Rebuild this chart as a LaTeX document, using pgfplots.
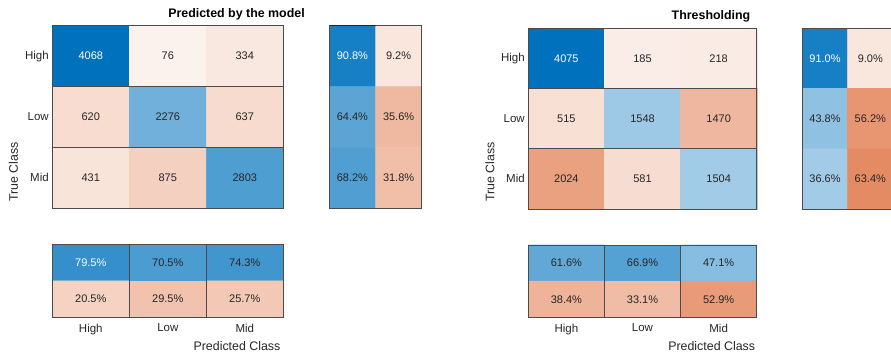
\documentclass[border=0pt]{standalone}
\usepackage{pgfplots}
\pgfplotsset{compat=1.18}
\usepackage{pgfplotstable}
\usepackage{fontspec}
\setmainfont{Liberation Sans}
\definecolor{txt}{RGB}{38,38,38}
\definecolor{gridc}{RGB}{75,75,75}

% left chart: Predicted by the model
\pgfplotstableread{
x y v s w
0 0 4068 1 1
1 0 76 -1 0
2 0 334 -1 0
0 1 620 -1 0
1 1 2276 1 0
2 1 637 -1 0
0 2 431 -1 0
1 2 875 -1 0
2 2 2803 1 0
}\LM
\pgfplotstableread{
x y v s w
0 0 90.8 1 1
1 0 9.2 -1 0
0 1 64.4 1 0
1 1 35.6 -1 0
0 2 68.2 1 0
1 2 31.8 -1 0
}\LR
\pgfplotstableread{
x y v s w
0 0 79.5 1 1
1 0 70.5 1 0
2 0 74.3 1 0
0 1 20.5 -1 0
1 1 29.5 -1 0
2 1 25.7 -1 0
}\LC
% right chart: Thresholding
\pgfplotstableread{
x y v s w
0 0 4075 1 1
1 0 185 -1 0
2 0 218 -1 0
0 1 515 -1 0
1 1 1548 1 0
2 1 1470 -1 0
0 2 2024 -1 0
1 2 581 -1 0
2 2 1504 1 0
}\RM
\pgfplotstableread{
x y v s w
0 0 91.0 1 1
1 0 9.0 -1 0
0 1 43.8 1 0
1 1 56.2 -1 0
0 2 36.6 1 0
1 2 63.4 -1 0
}\RR
\pgfplotstableread{
x y v s w
0 0 61.6 1 0
1 0 66.9 1 0
2 0 47.1 1 0
0 1 38.4 -1 0
1 1 33.1 -1 0
2 1 52.9 -1 0
}\RC

\pgfplotsset{
  cm/.style={scale only axis, anchor=north west, y dir=reverse,
    xmin=-0.5, ymin=-0.5, xtick=\empty, ytick=\empty,
    major tick length=0pt, minor tick length=0pt,
    minor xtick={0.5,1.5}, minor ytick={0.5,1.5},
    xminorgrids, yminorgrids,
    minor grid style={draw=gridc, line width=0.7pt},
    axis line style={draw=gridc, line width=0.7pt},
    colormap={rb}{rgb255(-100)=(217,83,25) rgb255(-75)=(225,120,75)
      rgb255(-50)=(234,160,127) rgb255(-25)=(243,202,184) rgb255(-10)=(249,229,219)
      rgb255(-2)=(251,241,236) rgb255(0)=(255,255,255) rgb255(100)=(0,114,189)},
    tick label style={font=\fontsize{11.5}{13}\selectfont, text=txt},
    xticklabel style={yshift=-3pt},
    clip=false, axis on top},
  cell/.style={matrix plot*, mesh/cols=#1, point meta={\thisrow{s}*\thisrow{v}}},
  lbl/.style 2 args={only marks, mark=none, point meta=explicit symbolic,
    nodes near coords={\pgfplotspointmeta#2},
    nodes near coords align=center,
    every node near coord/.append style={font=\fontsize{11}{12}\selectfont, anchor=center, text=#1}},
}

\begin{document}
\begin{tikzpicture}
\path[use as bounding box] (0pt,0pt) rectangle (891pt,-352pt);
\clip (0pt,0pt) rectangle (891pt,-352pt);

% ---------- left ----------
\begin{axis}[cm, at={(52.3pt,-25.7pt)}, width=231pt, height=182.6pt,
  xmax=2.5, ymax=2.5, ytick={0,1,2}, yticklabels={High,Low,Mid},
  point meta min=-4068, point meta max=4068]
\addplot[cell=3] table[x=x,y=y] {\LM};
\addplot[lbl={white}{}, restrict expr to domain={\thisrow{w}}{0.5:1.5}] table[x=x,y=y,meta=v] {\LM};
\addplot[lbl={txt}{}, restrict expr to domain={\thisrow{w}}{-0.5:0.5}] table[x=x,y=y,meta=v] {\LM};
\end{axis}
\begin{axis}[cm, at={(329.3pt,-25.7pt)}, width=92.4pt, height=182.6pt,
  xmax=1.5, ymax=2.5, minor xtick={0.5}, point meta min=-100, point meta max=100]
\addplot[cell=2] table[x=x,y=y] {\LR};
\addplot[lbl={white}{\%}, restrict expr to domain={\thisrow{w}}{0.5:1.5}] table[x=x,y=y,meta=v] {\LR};
\addplot[lbl={txt}{\%}, restrict expr to domain={\thisrow{w}}{-0.5:0.5}] table[x=x,y=y,meta=v] {\LR};
\end{axis}
\begin{axis}[cm, at={(52.3pt,-244.3pt)}, width=231pt, height=73pt,
  xmax=2.5, ymax=1.5, minor ytick={0.5}, xtick={0,1,2}, xticklabels={High,Low,Mid},
  point meta min=-100, point meta max=100]
\addplot[cell=3] table[x=x,y=y] {\LC};
\addplot[lbl={white}{\%}, restrict expr to domain={\thisrow{w}}{0.5:1.5}] table[x=x,y=y,meta=v] {\LC};
\addplot[lbl={txt}{\%}, restrict expr to domain={\thisrow{w}}{-0.5:0.5}] table[x=x,y=y,meta=v] {\LC};
\end{axis}
\draw[line width=1.2pt, black!85] (330pt,-25.9pt) -- (375.5pt,-25.9pt);
\node[font=\bfseries\fontsize{12.4}{14}\selectfont, text=black] at (236.5pt,-14.5pt) {Predicted by the model};
\node[rotate=90, font=\fontsize{12.4}{14}\selectfont, text=txt] at (13.5pt,-172pt) {True Class};
\node[font=\fontsize{12.4}{14}\selectfont, text=txt] at (237pt,-346pt) {Predicted Class};

% ---------- right ----------
\begin{axis}[cm, at={(528.3pt,-28.3pt)}, width=228.4pt, height=180.7pt,
  xmax=2.5, ymax=2.5, ytick={0,1,2}, yticklabels={High,Low,Mid},
  point meta min=-4075, point meta max=4075]
\addplot[cell=3] table[x=x,y=y] {\RM};
\addplot[lbl={white}{}, restrict expr to domain={\thisrow{w}}{0.5:1.5}] table[x=x,y=y,meta=v] {\RM};
\addplot[lbl={txt}{}, restrict expr to domain={\thisrow{w}}{-0.5:0.5}] table[x=x,y=y,meta=v] {\RM};
\end{axis}
\begin{axis}[cm, at={(802.3pt,-28.3pt)}, width=90.7pt, height=180.7pt,
  xmax=1.5, ymax=2.5, minor xtick={0.5}, point meta min=-100, point meta max=100]
\addplot[cell=2] table[x=x,y=y] {\RR};
\addplot[lbl={white}{\%}, restrict expr to domain={\thisrow{w}}{0.5:1.5}] table[x=x,y=y,meta=v] {\RR};
\addplot[lbl={txt}{\%}, restrict expr to domain={\thisrow{w}}{-0.5:0.5}] table[x=x,y=y,meta=v] {\RR};
\end{axis}
\begin{axis}[cm, at={(528.3pt,-245pt)}, width=228.4pt, height=72.3pt,
  xmax=2.5, ymax=1.5, minor ytick={0.5}, xtick={0,1,2}, xticklabels={High,Low,Mid},
  point meta min=-100, point meta max=100]
\addplot[cell=3] table[x=x,y=y] {\RC};
\addplot[lbl={txt}{\%}] table[x=x,y=y,meta=v] {\RC};
\end{axis}
\node[font=\bfseries\fontsize{12.4}{14}\selectfont, text=black] at (711pt,-16.5pt) {Thresholding};
\node[rotate=90, font=\fontsize{12.4}{14}\selectfont, text=txt] at (490pt,-172pt) {True Class};
\node[font=\fontsize{12.4}{14}\selectfont, text=txt] at (711.7pt,-346pt) {Predicted Class};
\end{tikzpicture}
\end{document}
